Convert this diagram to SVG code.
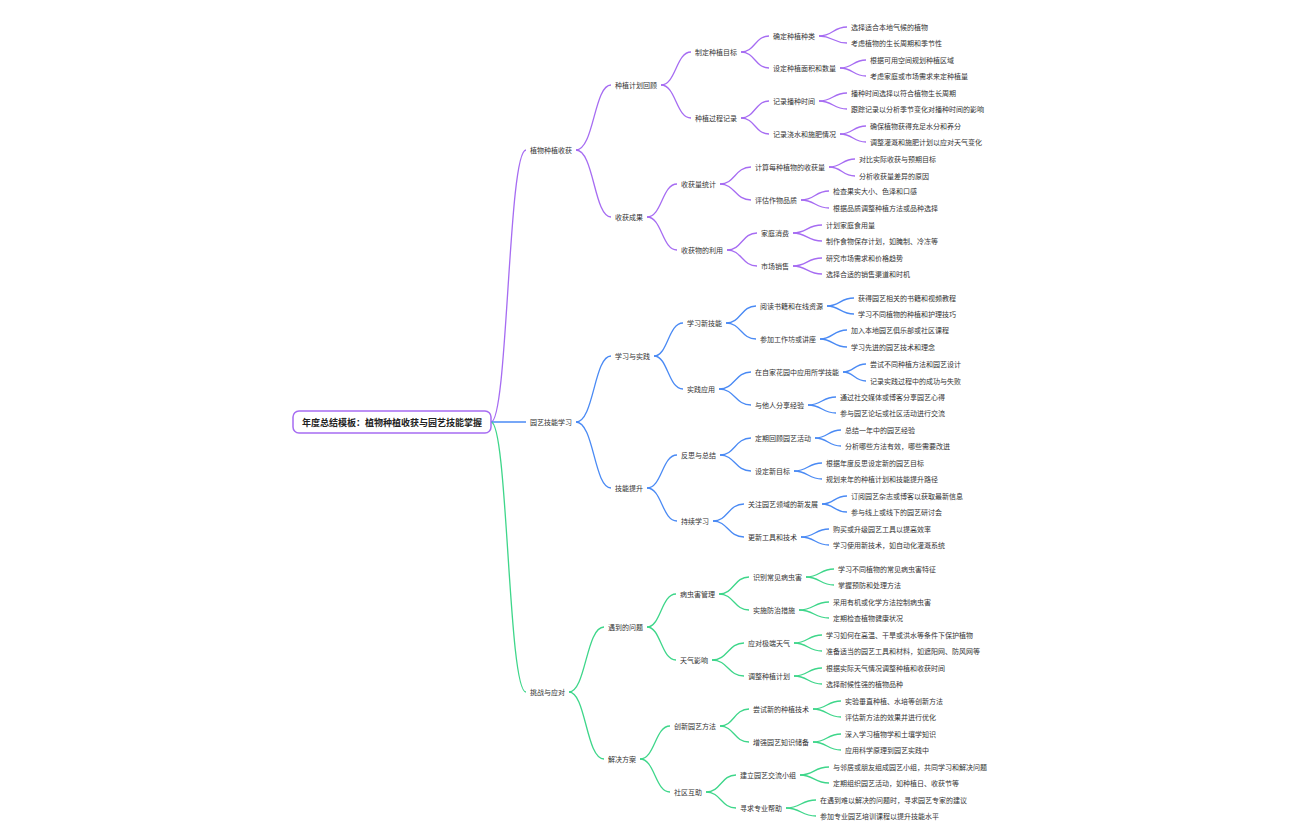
<svg xmlns="http://www.w3.org/2000/svg" width="1296" height="840" viewBox="0 0 1296 840">
<style>
text{font-family:"Noto Sans CJK SC","Noto Sans",sans-serif;font-size:7px;fill:#333;dominant-baseline:central}
.root{font-size:9px;font-weight:bold;fill:#222;text-anchor:middle}
path{fill:none;stroke-width:1.3}
.p path{stroke:#a66cf2}.b path{stroke:#4a8af4}.g path{stroke:#3ed68a}
</style>
<rect width="1296" height="840" fill="#fff"/>
<g id="connectors">
<g class="p">
<path d="M491 422 C508 422 508 150 526 150"/>
<path d="M576 150 C594 150 594 85 611 85"/><path d="M576 150 C594 150 594 217 611 217"/>
<path d="M661 85 C676 85 676 52 691 52"/><path d="M661 85 C676 85 676 118 691 118"/>
<path d="M741 52 C755 52 755 36 769 36"/><path d="M741 52 C755 52 755 68 769 68"/>
<path d="M741 118 C755 118 755 101 769 101"/><path d="M741 118 C755 118 755 134 769 134"/>
<path d="M819 36 C833 36 833 27 847 27"/><path d="M819 36 C833 36 833 43 847 43"/>
<path d="M840 68 C853 68 853 60 866 60"/><path d="M840 68 C853 68 853 76 866 76"/>
<path d="M819 101 C833 101 833 93 847 93"/><path d="M819 101 C833 101 833 109 847 109"/>
<path d="M840 134 C853 134 853 126 866 126"/><path d="M840 134 C853 134 853 142 866 142"/>
<path d="M647 217 C662 217 662 184 677 184"/><path d="M647 217 C662 217 662 250 677 250"/>
<path d="M720 184 C735 184 735 167 751 167"/><path d="M720 184 C735 184 735 200 751 200"/>
<path d="M727 250 C742 250 742 233 757 233"/><path d="M727 250 C742 250 742 266 757 266"/>
<path d="M829 167 C842 167 842 159 855 159"/><path d="M829 167 C842 167 842 176 855 176"/>
<path d="M801 200 C815 200 815 191 829 191"/><path d="M801 200 C815 200 815 208 829 208"/>
<path d="M793 233 C807 233 807 225 822 225"/><path d="M793 233 C807 233 807 241 822 241"/>
<path d="M793 266 C807 266 807 258 822 258"/><path d="M793 266 C807 266 807 274 822 274"/>
</g>
<g class="b">
<path d="M491 422 C508 422 508 422 526 422"/>
<path d="M576 422 C594 422 594 356 611 356"/><path d="M576 422 C594 422 594 488 611 488"/>
<path d="M654 356 C668 356 668 323 683 323"/><path d="M654 356 C668 356 668 389 683 389"/>
<path d="M726 323 C741 323 741 306 756 306"/><path d="M726 323 C741 323 741 339 756 339"/>
<path d="M719 389 C735 389 735 372 751 372"/><path d="M719 389 C735 389 735 405 751 405"/>
<path d="M827 306 C840 306 840 298 854 298"/><path d="M827 306 C840 306 840 314 854 314"/>
<path d="M820 339 C833 339 833 330 847 330"/><path d="M820 339 C833 339 833 347 847 347"/>
<path d="M843 372 C854 372 854 364 866 364"/><path d="M843 372 C854 372 854 381 866 381"/>
<path d="M808 405 C822 405 822 397 836 397"/><path d="M808 405 C822 405 822 413 836 413"/>
<path d="M647 488 C662 488 662 455 677 455"/><path d="M647 488 C662 488 662 521 677 521"/>
<path d="M720 455 C735 455 735 438 751 438"/><path d="M720 455 C735 455 735 471 751 471"/>
<path d="M713 521 C728 521 728 504 744 504"/><path d="M713 521 C728 521 728 537 744 537"/>
<path d="M815 438 C828 438 828 430 841 430"/><path d="M815 438 C828 438 828 446 841 446"/>
<path d="M794 471 C808 471 808 463 822 463"/><path d="M794 471 C808 471 808 479 822 479"/>
<path d="M822 504 C834 504 834 496 847 496"/><path d="M822 504 C834 504 834 512 847 512"/>
<path d="M801 537 C815 537 815 529 829 529"/><path d="M801 537 C815 537 815 545 829 545"/>
</g>
<g class="g">
<path d="M491 422 C508 422 508 692 526 692"/>
<path d="M569 692 C586 692 586 627 604 627"/><path d="M569 692 C586 692 586 759 604 759"/>
<path d="M647 627 C661 627 661 594 676 594"/><path d="M647 627 C661 627 661 660 676 660"/>
<path d="M719 594 C734 594 734 577 749 577"/><path d="M719 594 C734 594 734 610 749 610"/>
<path d="M712 660 C728 660 728 643 744 643"/><path d="M712 660 C728 660 728 676 744 676"/>
<path d="M806 577 C820 577 820 569 834 569"/><path d="M806 577 C820 577 820 585 834 585"/>
<path d="M799 610 C814 610 814 602 829 602"/><path d="M799 610 C814 610 814 618 829 618"/>
<path d="M794 643 C808 643 808 635 822 635"/><path d="M794 643 C808 643 808 651 822 651"/>
<path d="M794 676 C808 676 808 668 822 668"/><path d="M794 676 C808 676 808 684 822 684"/>
<path d="M640 759 C655 759 655 726 670 726"/><path d="M640 759 C655 759 655 792 670 792"/>
<path d="M720 726 C734 726 734 709 749 709"/><path d="M720 726 C734 726 734 742 749 742"/>
<path d="M706 792 C721 792 721 775 736 775"/><path d="M706 792 C721 792 721 808 736 808"/>
<path d="M813 709 C827 709 827 701 841 701"/><path d="M813 709 C827 709 827 717 841 717"/>
<path d="M813 742 C827 742 827 734 841 734"/><path d="M813 742 C827 742 827 750 841 750"/>
<path d="M800 775 C814 775 814 767 829 767"/><path d="M800 775 C814 775 814 783 829 783"/>
<path d="M786 808 C801 808 801 800 816 800"/><path d="M786 808 C801 808 801 816 816 816"/>
</g>
</g>
<g id="root"><rect x="293" y="411" width="198" height="22" rx="6" fill="#fff" stroke="#a66cf2" stroke-width="1.5"/><text class="root" x="392" y="422">年度总结模板：植物种植收获与园艺技能掌握</text></g>
<g id="n1"><text x="530" y="150">植物种植收获</text></g>
<g id="n1a"><text x="615" y="85">种植计划回顾</text></g>
<g id="n1a1"><text x="695" y="52">制定种植目标</text></g>
<g id="n1a1a"><text x="773" y="36">确定种植种类</text></g>
<g id="n1a1a1"><text x="851" y="27">选择适合本地气候的植物</text></g>
<g id="n1a1a2"><text x="851" y="43">考虑植物的生长周期和季节性</text></g>
<g id="n1a1b"><text x="773" y="68">设定种植面积和数量</text></g>
<g id="n1a1b1"><text x="870" y="60">根据可用空间规划种植区域</text></g>
<g id="n1a1b2"><text x="870" y="76">考虑家庭或市场需求来定种植量</text></g>
<g id="n1a2"><text x="695" y="118">种植过程记录</text></g>
<g id="n1a2a"><text x="773" y="101">记录播种时间</text></g>
<g id="n1a2a1"><text x="851" y="93">播种时间选择以符合植物生长周期</text></g>
<g id="n1a2a2"><text x="851" y="109">跟踪记录以分析季节变化对播种时间的影响</text></g>
<g id="n1a2b"><text x="773" y="134">记录浇水和施肥情况</text></g>
<g id="n1a2b1"><text x="870" y="126">确保植物获得充足水分和养分</text></g>
<g id="n1a2b2"><text x="870" y="142">调整灌溉和施肥计划以应对天气变化</text></g>
<g id="n1b"><text x="615" y="217">收获成果</text></g>
<g id="n1b1"><text x="681" y="184">收获量统计</text></g>
<g id="n1b1a"><text x="755" y="167">计算每种植物的收获量</text></g>
<g id="n1b1a1"><text x="859" y="159">对比实际收获与预期目标</text></g>
<g id="n1b1a2"><text x="859" y="176">分析收获量差异的原因</text></g>
<g id="n1b1b"><text x="755" y="200">评估作物品质</text></g>
<g id="n1b1b1"><text x="833" y="191">检查果实大小、色泽和口感</text></g>
<g id="n1b1b2"><text x="833" y="208">根据品质调整种植方法或品种选择</text></g>
<g id="n1b2"><text x="681" y="250">收获物的利用</text></g>
<g id="n1b2a"><text x="761" y="233">家庭消费</text></g>
<g id="n1b2a1"><text x="826" y="225">计划家庭食用量</text></g>
<g id="n1b2a2"><text x="826" y="241">制作食物保存计划，如腌制、冷冻等</text></g>
<g id="n1b2b"><text x="761" y="266">市场销售</text></g>
<g id="n1b2b1"><text x="826" y="258">研究市场需求和价格趋势</text></g>
<g id="n1b2b2"><text x="826" y="274">选择合适的销售渠道和时机</text></g>
<g id="n2"><text x="530" y="422">园艺技能学习</text></g>
<g id="n2a"><text x="615" y="356">学习与实践</text></g>
<g id="n2a1"><text x="687" y="323">学习新技能</text></g>
<g id="n2a1a"><text x="760" y="306">阅读书籍和在线资源</text></g>
<g id="n2a1a1"><text x="858" y="298">获得园艺相关的书籍和视频教程</text></g>
<g id="n2a1a2"><text x="858" y="314">学习不同植物的种植和护理技巧</text></g>
<g id="n2a1b"><text x="760" y="339">参加工作坊或讲座</text></g>
<g id="n2a1b1"><text x="851" y="330">加入本地园艺俱乐部或社区课程</text></g>
<g id="n2a1b2"><text x="851" y="347">学习先进的园艺技术和理念</text></g>
<g id="n2a2"><text x="687" y="389">实践应用</text></g>
<g id="n2a2a"><text x="755" y="372">在自家花园中应用所学技能</text></g>
<g id="n2a2a1"><text x="870" y="364">尝试不同种植方法和园艺设计</text></g>
<g id="n2a2a2"><text x="870" y="381">记录实践过程中的成功与失败</text></g>
<g id="n2a2b"><text x="755" y="405">与他人分享经验</text></g>
<g id="n2a2b1"><text x="840" y="397">通过社交媒体或博客分享园艺心得</text></g>
<g id="n2a2b2"><text x="840" y="413">参与园艺论坛或社区活动进行交流</text></g>
<g id="n2b"><text x="615" y="488">技能提升</text></g>
<g id="n2b1"><text x="681" y="455">反思与总结</text></g>
<g id="n2b1a"><text x="755" y="438">定期回顾园艺活动</text></g>
<g id="n2b1a1"><text x="845" y="430">总结一年中的园艺经验</text></g>
<g id="n2b1a2"><text x="845" y="446">分析哪些方法有效，哪些需要改进</text></g>
<g id="n2b1b"><text x="755" y="471">设定新目标</text></g>
<g id="n2b1b1"><text x="826" y="463">根据年度反思设定新的园艺目标</text></g>
<g id="n2b1b2"><text x="826" y="479">规划来年的种植计划和技能提升路径</text></g>
<g id="n2b2"><text x="681" y="521">持续学习</text></g>
<g id="n2b2a"><text x="748" y="504">关注园艺领域的新发展</text></g>
<g id="n2b2a1"><text x="851" y="496">订阅园艺杂志或博客以获取最新信息</text></g>
<g id="n2b2a2"><text x="851" y="512">参与线上或线下的园艺研讨会</text></g>
<g id="n2b2b"><text x="748" y="537">更新工具和技术</text></g>
<g id="n2b2b1"><text x="833" y="529">购买或升级园艺工具以提高效率</text></g>
<g id="n2b2b2"><text x="833" y="545">学习使用新技术，如自动化灌溉系统</text></g>
<g id="n3"><text x="530" y="692">挑战与应对</text></g>
<g id="n3a"><text x="608" y="627">遇到的问题</text></g>
<g id="n3a1"><text x="680" y="594">病虫害管理</text></g>
<g id="n3a1a"><text x="753" y="577">识别常见病虫害</text></g>
<g id="n3a1a1"><text x="838" y="569">学习不同植物的常见病虫害特征</text></g>
<g id="n3a1a2"><text x="838" y="585">掌握预防和处理方法</text></g>
<g id="n3a1b"><text x="753" y="610">实施防治措施</text></g>
<g id="n3a1b1"><text x="833" y="602">采用有机或化学方法控制病虫害</text></g>
<g id="n3a1b2"><text x="833" y="618">定期检查植物健康状况</text></g>
<g id="n3a2"><text x="680" y="660">天气影响</text></g>
<g id="n3a2a"><text x="748" y="643">应对极端天气</text></g>
<g id="n3a2a1"><text x="826" y="635">学习如何在高温、干旱或洪水等条件下保护植物</text></g>
<g id="n3a2a2"><text x="826" y="651">准备适当的园艺工具和材料，如遮阳网、防风网等</text></g>
<g id="n3a2b"><text x="748" y="676">调整种植计划</text></g>
<g id="n3a2b1"><text x="826" y="668">根据实际天气情况调整种植和收获时间</text></g>
<g id="n3a2b2"><text x="826" y="684">选择耐候性强的植物品种</text></g>
<g id="n3b"><text x="608" y="759">解决方案</text></g>
<g id="n3b1"><text x="674" y="726">创新园艺方法</text></g>
<g id="n3b1a"><text x="753" y="709">尝试新的种植技术</text></g>
<g id="n3b1a1"><text x="845" y="701">实验垂直种植、水培等创新方法</text></g>
<g id="n3b1a2"><text x="845" y="717">评估新方法的效果并进行优化</text></g>
<g id="n3b1b"><text x="753" y="742">增强园艺知识储备</text></g>
<g id="n3b1b1"><text x="845" y="734">深入学习植物学和土壤学知识</text></g>
<g id="n3b1b2"><text x="845" y="750">应用科学原理到园艺实践中</text></g>
<g id="n3b2"><text x="674" y="792">社区互助</text></g>
<g id="n3b2a"><text x="740" y="775">建立园艺交流小组</text></g>
<g id="n3b2a1"><text x="833" y="767">与邻居或朋友组成园艺小组，共同学习和解决问题</text></g>
<g id="n3b2a2"><text x="833" y="783">定期组织园艺活动，如种植日、收获节等</text></g>
<g id="n3b2b"><text x="740" y="808">寻求专业帮助</text></g>
<g id="n3b2b1"><text x="820" y="800">在遇到难以解决的问题时，寻求园艺专家的建议</text></g>
<g id="n3b2b2"><text x="820" y="816">参加专业园艺培训课程以提升技能水平</text></g>
</svg>
